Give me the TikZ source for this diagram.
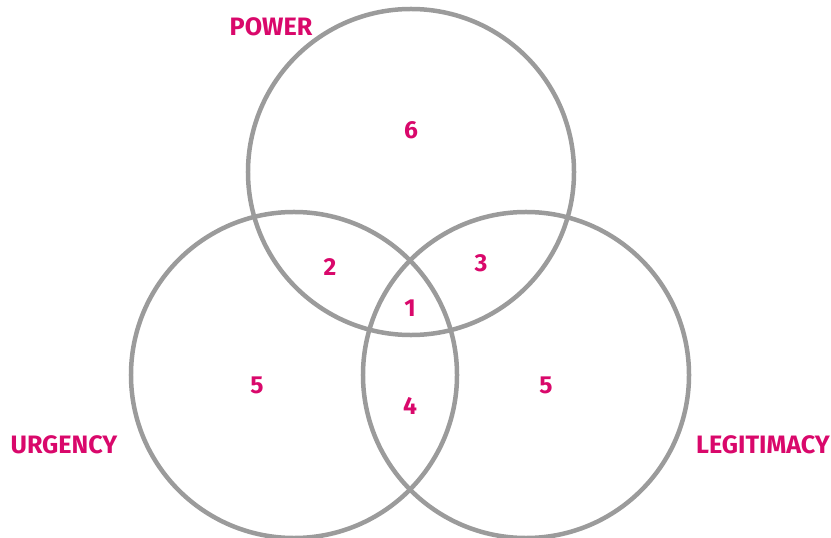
\documentclass[tikz,border=0pt]{standalone}
\usepackage{fontspec}
\setmainfont{Fira Sans}
\usetikzlibrary{shapes, positioning}

\definecolor{venngray}{HTML}{9B9B9B}
\definecolor{vennpink}{HTML}{D9086B}

\begin{document}
\begin{tikzpicture}[
    x=0.03cm, y=-0.03cm,
    set/.style={circle, draw=venngray, line width=0.135cm, minimum size=9.78cm, inner sep=0pt},
    label/.style={text=vennpink, font=\fontsize{21.5}{24}\selectfont\bfseries, inner sep=0pt},
    count/.style={text=vennpink, font=\fontsize{21}{24}\selectfont\bfseries, inner sep=0pt}
]
\useasboundingbox (0,0) rectangle (831,538);

% Sets
\node[set] (power) at (411,172) {};
\node[set] (urgency) at (294,375) {};
\node[set] (legitimacy) at (526,375) {};

% Set names
\node[label] (powerlabel) at (271,27) {POWER};
\node[label] (urgencylabel) at (64,445) {URGENCY};
\node[label] (legitimacylabel) at (763,445) {LEGITIMACY};

% Counts
\node[count] (p) at (411,130) {6};
\node[count] (pu) at (330,267) {2};
\node[count] (pl) at (481,263) {3};
\node[count] (pul) at (410,308) {1};
\node[count] (u) at (257,385) {5};
\node[count] (ul) at (410,406) {4};
\node[count] (l) at (546,385) {5};

\end{tikzpicture}
\end{document}
